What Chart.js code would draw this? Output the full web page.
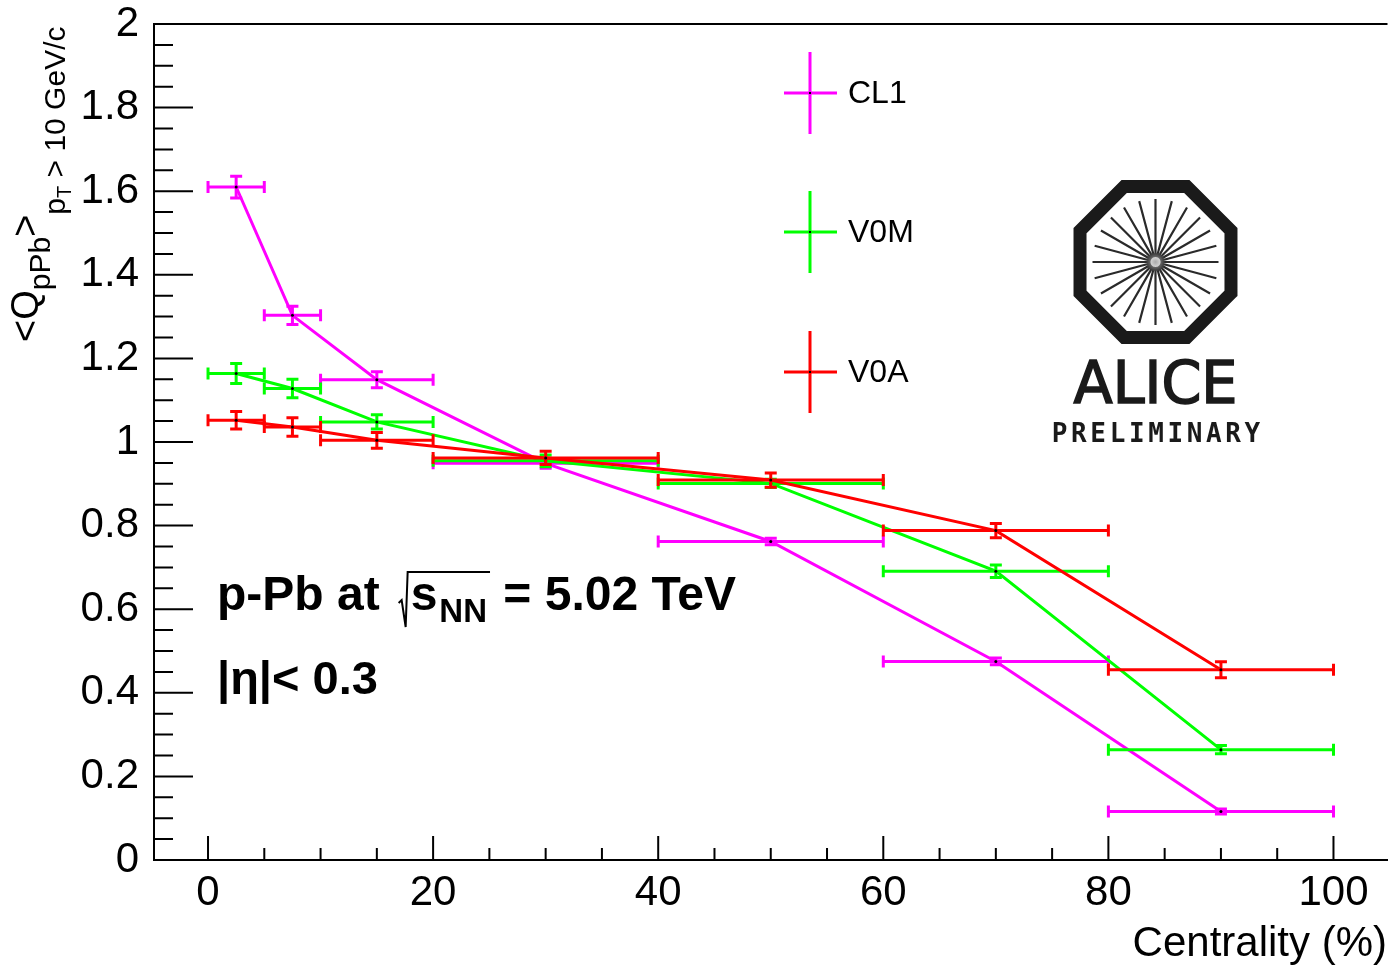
<!DOCTYPE html>
<html>
<head>
<meta charset="utf-8">
<script src="https://cdn.jsdelivr.net/npm/chart.js@4.4.1/dist/chart.umd.min.js"></script>
<style>
html, body { margin: 0; padding: 0; background: #fff; }
#wrap { width: 1389px; height: 967px; }
</style>
</head>
<body>
<div id="wrap"><canvas id="grafik" width="1389" height="967"></canvas></div>
<script>
// centrality bins (%)
const binLow = [0, 5, 10, 20, 40, 60, 80];
const binHigh = [5, 10, 20, 40, 60, 80, 100];
const binCenter = [2.5, 7.5, 15, 30, 50, 70, 90];

// <Q_pPb> per estimator
const cl1Values = [1.610, 1.303, 1.149, 0.949, 0.762, 0.475, 0.116];
const cl1Errors = [0.026, 0.022, 0.019, 0.012, 0.008, 0.008, 0.006];
const v0mValues = [1.164, 1.128, 1.048, 0.955, 0.901, 0.691, 0.264];
const v0mErrors = [0.024, 0.022, 0.017, 0.014, 0.010, 0.015, 0.010];
const v0aValues = [1.052, 1.036, 1.004, 0.962, 0.909, 0.788, 0.455];
const v0aErrors = [0.021, 0.022, 0.019, 0.016, 0.017, 0.017, 0.019];

const xTickValues = [0, 20, 40, 60, 80, 100];
const xTickLabels = ["0", "20", "40", "60", "80", "100"];
const yTickValues = [0, 0.2, 0.4, 0.6, 0.8, 1, 1.2, 1.4, 1.6, 1.8, 2];
const yTickLabels = ["0", "0.2", "0.4", "0.6", "0.8", "1", "1.2", "1.4", "1.6", "1.8", "2"];

const FONT = '"Liberation Sans", Arial, Helvetica, sans-serif';

function toPoints(values) {
    return values.map((v, i) => ({ x: binCenter[i], y: v }));
}

// error bars ala ROOT (horizontal = bin width, vertical = stat error)
const errorBars = {
    id: "errorBars",
    beforeDatasetDraw(chart, args) {
        const ds = chart.data.datasets[args.index];
        const xs = chart.scales.x, ys = chart.scales.y;
        const ctx = chart.ctx;
        const c = 6;
        ctx.save();
        ctx.beginPath();
        ctx.rect(chart.chartArea.left, chart.chartArea.top, chart.chartArea.width, chart.chartArea.height);
        ctx.clip();
        ctx.strokeStyle = ds.borderColor;
        ctx.lineWidth = 3;
        ds.data.forEach((p, i) => {
            const px = xs.getPixelForValue(p.x);
            const py = ys.getPixelForValue(p.y);
            const x1 = xs.getPixelForValue(binLow[i]);
            const x2 = xs.getPixelForValue(binHigh[i]);
            const y1 = ys.getPixelForValue(p.y - ds.errors[i]);
            const y2 = ys.getPixelForValue(p.y + ds.errors[i]);
            ctx.beginPath();
            ctx.moveTo(x1, py); ctx.lineTo(x2, py);
            ctx.moveTo(px, y1); ctx.lineTo(px, y2);
            ctx.moveTo(x1, py - c); ctx.lineTo(x1, py + c);
            ctx.moveTo(x2, py - c); ctx.lineTo(x2, py + c);
            ctx.moveTo(px - c, y1); ctx.lineTo(px + c, y1);
            ctx.moveTo(px - c, y2); ctx.lineTo(px + c, y2);
            ctx.stroke();
        });
        ctx.restore();
    }
};

function drawYTitle(ctx) {
    ctx.save();
    ctx.translate(38, 342);
    ctx.rotate(-Math.PI / 2);
    ctx.fillStyle = "#000";
    ctx.textAlign = "left";
    ctx.textBaseline = "alphabetic";
    let x = 0;
    const part = (txt, size, dy) => {
        ctx.font = size + "px " + FONT;
        ctx.fillText(txt, x, dy);
        x += ctx.measureText(txt).width;
    };
    part("<Q", 38, 0);
    part("pPb", 30, 12);
    part(">", 38, 0);
    part("p", 30, 27);
    part("T", 20, 33);
    part(" > 10 GeV/c", 30, 27);
    ctx.restore();
}

function drawLogo(ctx) {
    const cx = 1155.5, cy = 262;
    ctx.save();
    // octagon
    const R = 81.7;
    ctx.strokeStyle = "#1a1a1a";
    ctx.lineWidth = 13;
    ctx.lineJoin = "miter";
    ctx.beginPath();
    for (let k = 0; k < 8; k++) {
        const a = Math.PI / 8 + k * Math.PI / 4;
        const px = cx + R * Math.cos(a), py = cy + R * Math.sin(a);
        if (k === 0) ctx.moveTo(px, py); else ctx.lineTo(px, py);
    }
    ctx.closePath();
    ctx.stroke();
    // rays
    ctx.strokeStyle = "#2a2a2a";
    ctx.lineWidth = 2.2;
    ctx.beginPath();
    for (let k = 0; k < 24; k++) {
        const a = k * Math.PI / 12;
        ctx.moveTo(cx + 5 * Math.cos(a), cy + 5 * Math.sin(a));
        ctx.lineTo(cx + 63 * Math.cos(a), cy + 63 * Math.sin(a));
    }
    ctx.stroke();
    const g = ctx.createRadialGradient(cx, cy, 0, cx, cy, 10);
    g.addColorStop(0, "rgba(170,170,170,1)");
    g.addColorStop(1, "rgba(170,170,170,0)");
    ctx.fillStyle = g;
    ctx.beginPath(); ctx.arc(cx, cy, 10, 0, Math.PI * 2); ctx.fill();
    // ALICE
    ctx.fillStyle = "#1a1a1a";
    ctx.strokeStyle = "#1a1a1a";
    ctx.lineWidth = 1.6;
    ctx.font = '58px "DejaVu Sans", sans-serif';
    ctx.textAlign = "center";
    ctx.textBaseline = "alphabetic";
    const w = ctx.measureText("ALICE").width;
    ctx.translate(cx, 403);
    ctx.scale(164 / w, 1);
    ctx.fillText("ALICE", 0, 0);
    ctx.strokeText("ALICE", 0, 0);
    ctx.restore();
    // PRELIMINARY
    ctx.save();
    ctx.fillStyle = "#1a1a1a";
    ctx.font = 'bold 26px "DejaVu Sans Mono", monospace';
    ctx.textAlign = "center";
    const word = "PRELIMINARY";
    const step = (1262 - 1050) / word.length;
    for (let i = 0; i < word.length; i++) {
        ctx.fillText(word[i], 1050 + step * (i + 0.5), 442);
    }
    ctx.restore();
}

function drawLabels(ctx) {
    ctx.save();
    ctx.fillStyle = "#000";
    ctx.strokeStyle = "#000";
    ctx.textAlign = "left";
    ctx.textBaseline = "alphabetic";
    ctx.font = "bold 48px " + FONT;
    let x = 217;
    const base = 610;
    ctx.fillText("p-Pb at", x, base);
    x += ctx.measureText("p-Pb at").width + 22;
    // sqrt sign
    const sx = x;
    ctx.lineWidth = 2;
    ctx.beginPath();
    ctx.moveTo(x - 3, 603); ctx.lineTo(x, 600);
    ctx.lineTo(x + 4, 627); ctx.lineTo(x + 6, 572);
    x += 9;
    ctx.fillText("s", x, base);
    x += ctx.measureText("s").width + 2;
    ctx.font = "bold 33px " + FONT;
    ctx.fillText("NN", x, base + 12);
    x += ctx.measureText("NN").width + 3;
    ctx.lineTo(x, 572);
    ctx.stroke();
    ctx.font = "bold 48px " + FONT;
    ctx.fillText(" = 5.02 TeV", x, base);
    ctx.font = "bold 47px " + FONT;
    ctx.fillText("|\u03b7|< 0.3", 217, 694);
    ctx.restore();
}

const rootDecor = {
    id: "rootDecor",
    afterDraw(chart) {
        const ctx = chart.ctx;
        const xs = chart.scales.x, ys = chart.scales.y;
        const a = chart.chartArea;
        ctx.save();
        ctx.strokeStyle = "#000";
        ctx.lineWidth = 2;
        ctx.beginPath();
        // top frame
        ctx.moveTo(a.left, a.top); ctx.lineTo(a.right, a.top);
        // y ticks
        for (let i = 0; i <= 40; i++) {
            const py = ys.getPixelForValue(i * 0.05);
            const len = i % 4 === 0 ? 39 : 19;
            ctx.moveTo(a.left, py); ctx.lineTo(a.left + len, py);
        }
        // x ticks
        for (let i = 0; i <= 20; i++) {
            const px = xs.getPixelForValue(i * 5);
            const len = i % 4 === 0 ? 24 : 12;
            ctx.moveTo(px, a.bottom); ctx.lineTo(px, a.bottom - len);
        }
        ctx.stroke();
        ctx.restore();

        // x title
        ctx.save();
        ctx.fillStyle = "#000";
        ctx.font = "42px " + FONT;
        ctx.textAlign = "right";
        ctx.textBaseline = "alphabetic";
        ctx.fillText("Centrality (%)", 1387, 956);
        ctx.restore();

        drawYTitle(ctx);

        // legend
        const legendY = [93, 232, 372];
        ctx.save();
        chart.data.datasets.forEach((ds, i) => {
            const ly = legendY[i];
            ctx.strokeStyle = ds.borderColor;
            ctx.lineWidth = 3;
            ctx.beginPath();
            ctx.moveTo(810, ly - 41); ctx.lineTo(810, ly + 41);
            ctx.moveTo(784, ly); ctx.lineTo(837, ly);
            ctx.stroke();
            ctx.fillStyle = "#000";
            ctx.fillRect(809, ly - 1, 2, 2);
            ctx.font = "32px " + FONT;
            ctx.textAlign = "left";
            ctx.textBaseline = "middle";
            ctx.fillText(ds.label, 848, ly + 1);
        });
        ctx.restore();

        drawLabels(ctx);
        drawLogo(ctx);
    }
};

const ctx = document.getElementById("grafik").getContext("2d");

const chart = new Chart(ctx, {
    type: "scatter",
    data: {
        datasets: [
            { label: "CL1", data: toPoints(cl1Values), errors: cl1Errors, borderColor: "#ff00ff", order: 3 },
            { label: "V0M", data: toPoints(v0mValues), errors: v0mErrors, borderColor: "#00ff00", order: 2 },
            { label: "V0A", data: toPoints(v0aValues), errors: v0aErrors, borderColor: "#ff0000", order: 1 }
        ]
    },
    options: {
        responsive: false,
        animation: false,
        devicePixelRatio: 1,
        showLine: true,
        layout: { padding: { top: 24, right: 0, bottom: 0, left: 0 } },
        elements: {
            line: { borderWidth: 3, tension: 0 },
            point: { radius: 1.5, backgroundColor: "#000", borderWidth: 0, hoverRadius: 1.5 }
        },
        plugins: {
            legend: { display: false },
            tooltip: { enabled: false }
        },
        scales: {
            x: {
                type: "linear",
                min: -4.8,
                max: 104.8,
                afterBuildTicks: s => { s.ticks = xTickValues.map(v => ({ value: v })); },
                afterFit: s => { s.height = 107; s.paddingLeft = 0; s.paddingRight = 0; },
                grid: { display: false },
                border: { display: true, color: "#000", width: 2 },
                ticks: {
                    color: "#000",
                    padding: 0,
                    maxRotation: 0,
                    font: { family: FONT, size: 42 },
                    callback: (v, i) => xTickLabels[i]
                }
            },
            y: {
                type: "linear",
                min: 0,
                max: 2,
                afterBuildTicks: s => { s.ticks = yTickValues.map(v => ({ value: v })); },
                afterFit: s => { s.width = 154; s.paddingTop = 0; s.paddingBottom = 0; },
                grid: { display: false },
                border: { display: true, color: "#000", width: 2 },
                ticks: {
                    color: "#000",
                    padding: 7,
                    font: { family: FONT, size: 42 },
                    callback: (v, i) => yTickLabels[i]
                }
            }
        }
    },
    plugins: [errorBars, rootDecor]
});
</script>
</body>
</html>
